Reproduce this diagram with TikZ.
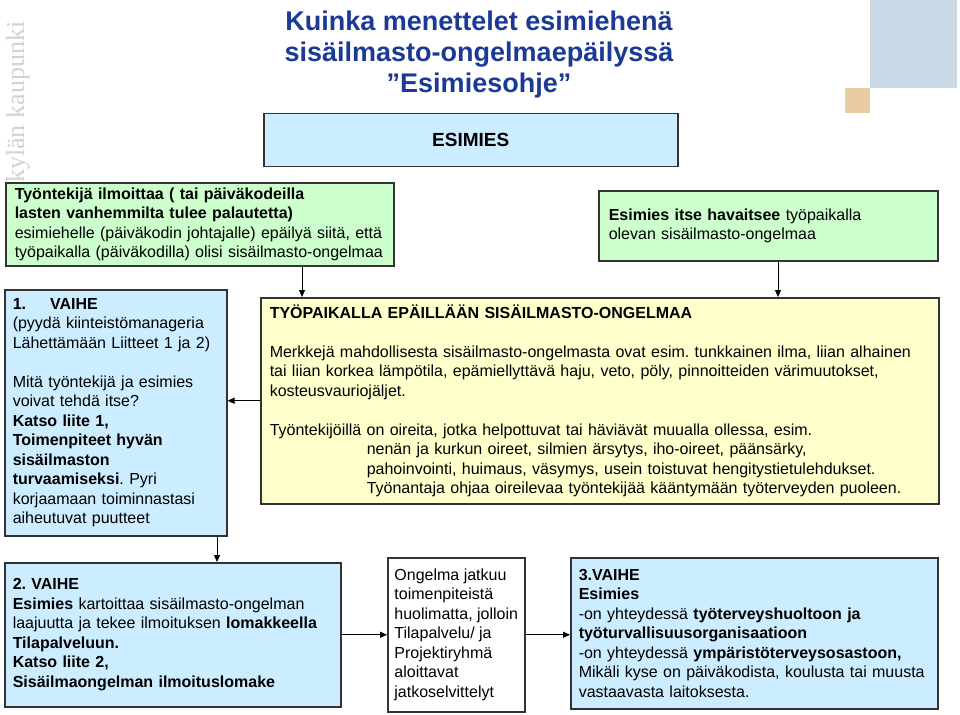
\documentclass[tikz,border=0pt]{standalone}
\usepackage{fontspec}
\setmainfont{Liberation Sans}
\newfontfamily\wmfont{Liberation Serif}
\usetikzlibrary{arrows.meta}
\definecolor{boxblue}{HTML}{CCECFF}
\definecolor{boxgreen}{HTML}{CCFFCC}
\definecolor{boxyellow}{HTML}{FFFFCC}
\definecolor{titleblue}{HTML}{1A3A96}
\definecolor{edge}{HTML}{333333}
\definecolor{sqblue}{HTML}{C9D9E5}
\definecolor{sqtan}{HTML}{E9CBA2}
\definecolor{wmgray}{HTML}{D2D2D2}
\frenchspacing
\begin{document}
\begin{tikzpicture}[x=1pt,y=-1pt,
  box/.style={draw=edge, line width=1.5pt, anchor=north west, align=left,
    inner xsep=8pt, inner ysep=0pt, font=\fontsize{16}{19.5}\selectfont},
  conn/.style={draw=black, line width=1pt, -{Triangle[length=7pt,width=6pt]}}]
\useasboundingbox (0,0) rectangle (960,714);
\fill[white] (0,0) rectangle (960,714);
% decorative squares
\fill[sqblue] (870,0) rectangle (957,88);
\fill[sqtan] (845,88) rectangle (870,113);
% watermark
\node[rotate=90, anchor=west, inner sep=0pt, text=wmgray,
  font=\wmfont\fontsize{26}{26}\selectfont] (wm) at (18,183) {kylän kaupunki};
% title
\node[font=\bfseries\fontsize{27}{31}\selectfont, text=titleblue, align=center]
  (title) at (479,55) {Kuinka menettelet esimiehenä\\sisäilmasto-ongelmaepäilyssä\\”Esimiesohje”};
% boxes
\node[box, fill=boxblue, minimum width=414pt, minimum height=53pt, align=center,
  font=\bfseries\fontsize{19}{22}\selectfont] (esim) at (263,113) {ESIMIES};
\node[box, fill=boxgreen, minimum width=388pt, minimum height=83pt, text width=370pt]
  (g1) at (5,182) {\textbf{Työntekijä ilmoittaa ( tai päiväkodeilla}\\
\textbf{lasten vanhemmilta tulee palautetta)}\\
esimiehelle (päiväkodin johtajalle) epäilyä siitä, että\\
työpaikalla (päiväkodilla) olisi sisäilmasto-ongelmaa};
\node[box, fill=boxgreen, minimum width=339pt, minimum height=70pt, text width=319pt, inner xsep=10pt]
  (g2) at (598,190) {\textbf{Esimies itse havaitsee} työpaikalla\\olevan sisäilmasto-ongelmaa};
\node[box, fill=boxyellow, minimum width=678pt, minimum height=206pt, text width=660pt]
  (y) at (260,297) {\textbf{TYÖPAIKALLA EPÄILLÄÄN SISÄILMASTO-ONGELMAA}\\[19.5pt]
Merkkejä mahdollisesta sisäilmasto-ongelmasta ovat esim. tunkkainen ilma, liian alhainen\\
tai liian korkea lämpötila, epämiellyttävä haju, veto, pöly, pinnoitteiden värimuutokset,\\
kosteusvauriojäljet.\\[19.5pt]
Työntekijöillä on oireita, jotka helpottuvat tai häviävät muualla ollessa, esim.\\
\hspace*{97pt}nenän ja kurkun oireet, silmien ärsytys, iho-oireet, päänsärky,\\
\hspace*{97pt}pahoinvointi, huimaus, väsymys, usein toistuvat hengitystietulehdukset.\\
\hspace*{97pt}Työnantaja ohjaa oireilevaa työntekijää kääntymään työterveyden puoleen.};
\node[box, fill=boxblue, minimum width=222pt, minimum height=246pt, text width=206pt]
  (b1) at (4,289) {\textbf{1.\hspace{24pt}VAIHE}\\
(pyydä kiinteistömanageria\\
Lähettämään Liitteet 1 ja 2)\\[19.5pt]
Mitä työntekijä ja esimies\\
voivat tehdä itse?\\
\textbf{Katso liite 1,}\\
\textbf{Toimenpiteet hyvän}\\
\textbf{sisäilmaston}\\
\textbf{turvaamiseksi}. Pyri\\
korjaamaan toiminnastasi\\
aiheutuvat puutteet};
\node[box, fill=boxblue, minimum width=336pt, minimum height=144pt, text width=320pt]
  (b2) at (4,562) {\textbf{2. VAIHE}\\
\textbf{Esimies} kartoittaa sisäilmasto-ongelman\\
laajuutta ja tekee ilmoituksen \textbf{lomakkeella}\\
\textbf{Tilapalveluun.}\\
\textbf{Katso liite 2,}\\
\textbf{Sisäilmaongelman ilmoituslomake}};
\node[box, fill=white, minimum width=137pt, minimum height=154pt, inner xsep=6pt]
  (w) at (387,557) {Ongelma jatkuu\\toimenpiteistä\\huolimatta, jolloin\\Tilapalvelu/ ja\\Projektiryhmä\\aloittavat\\jatkoselvittelyt};
\node[box, fill=boxblue, minimum width=367pt, minimum height=151pt, text width=351pt]
  (b3) at (570,557) {\textbf{3.VAIHE}\\
\textbf{Esimies}\\
-on yhteydessä \textbf{työterveyshuoltoon ja}\\
\textbf{työturvallisuusorganisaatioon}\\
-on yhteydessä \textbf{ympäristöterveysosastoon,}\\
Mikäli kyse on päiväkodista, koulusta tai muusta\\
vastaavasta laitoksesta.};
% connectors
\draw[conn] (g1.south -| 302,0) -- (y.north -| 302,0);
\draw[conn] (g2.south -| 778,0) -- (y.north -| 778,0);
\draw[conn] (y.west) -- (b1.east |- y.west);
\draw[conn] (b1.south -| 217,0) -- (b2.north -| 217,0);
\draw[conn] (b2.east) -- (w.west |- b2.east);
\draw[conn] (w.east) -- (b3.west |- w.east);
\end{tikzpicture}
\end{document}
